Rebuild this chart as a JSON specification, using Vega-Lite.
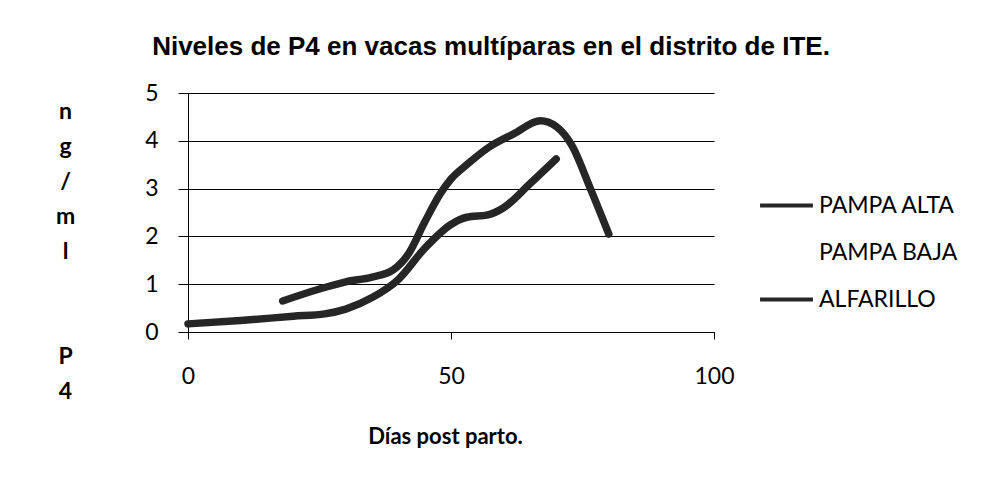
{
  "$schema": "https://vega.github.io/schema/vega-lite/v6.json",
  "width": 526,
  "height": 239,
  "autosize": "none",
  "padding": {"left": 188, "top": 93, "right": 273, "bottom": 159},
  "background": "white",
  "title": {
    "text": "Niveles de P4 en vacas multíparas en el distrito de ITE.",
    "font": "Liberation Sans",
    "fontSize": 26,
    "fontWeight": "bold",
    "color": "black",
    "anchor": "middle",
    "dx": 40,
    "baseline": "alphabetic",
    "offset": 1
  },
  "data": {
    "values": [
      {"serie": "PAMPA ALTA", "dias": 0, "p4": 0.17},
      {"serie": "PAMPA ALTA", "dias": 10, "p4": 0.24},
      {"serie": "PAMPA ALTA", "dias": 20, "p4": 0.33},
      {"serie": "PAMPA ALTA", "dias": 26, "p4": 0.38},
      {"serie": "PAMPA ALTA", "dias": 30, "p4": 0.48},
      {"serie": "PAMPA ALTA", "dias": 35, "p4": 0.72},
      {"serie": "PAMPA ALTA", "dias": 40, "p4": 1.1},
      {"serie": "PAMPA ALTA", "dias": 45, "p4": 1.75},
      {"serie": "PAMPA ALTA", "dias": 50, "p4": 2.25},
      {"serie": "PAMPA ALTA", "dias": 53, "p4": 2.4},
      {"serie": "PAMPA ALTA", "dias": 57, "p4": 2.45},
      {"serie": "PAMPA ALTA", "dias": 60, "p4": 2.6},
      {"serie": "PAMPA ALTA", "dias": 65, "p4": 3.1},
      {"serie": "PAMPA ALTA", "dias": 70, "p4": 3.62},
      {"serie": "ALFARILLO", "dias": 18, "p4": 0.65},
      {"serie": "ALFARILLO", "dias": 25, "p4": 0.9},
      {"serie": "ALFARILLO", "dias": 30, "p4": 1.05},
      {"serie": "ALFARILLO", "dias": 35, "p4": 1.15},
      {"serie": "ALFARILLO", "dias": 39, "p4": 1.3},
      {"serie": "ALFARILLO", "dias": 42, "p4": 1.65},
      {"serie": "ALFARILLO", "dias": 45, "p4": 2.3},
      {"serie": "ALFARILLO", "dias": 48, "p4": 2.9},
      {"serie": "ALFARILLO", "dias": 50, "p4": 3.2},
      {"serie": "ALFARILLO", "dias": 53, "p4": 3.5},
      {"serie": "ALFARILLO", "dias": 57, "p4": 3.85},
      {"serie": "ALFARILLO", "dias": 62, "p4": 4.15},
      {"serie": "ALFARILLO", "dias": 67, "p4": 4.42},
      {"serie": "ALFARILLO", "dias": 70, "p4": 4.3},
      {"serie": "ALFARILLO", "dias": 73, "p4": 3.9},
      {"serie": "ALFARILLO", "dias": 76.5, "p4": 3.0},
      {"serie": "ALFARILLO", "dias": 80, "p4": 2.05}
    ]
  },
  "mark": {"type": "line", "interpolate": "monotone", "strokeWidth": 7.5, "strokeCap": "round"},
  "encoding": {
    "x": {
      "field": "dias",
      "type": "quantitative",
      "scale": {"domain": [0, 100], "nice": false, "zero": true},
      "axis": {
        "values": [0, 50, 100],
        "grid": false,
        "title": "Días post parto.",
        "titleFont": "Lato",
        "titleFontSize": 22,
        "titleFontWeight": "bold",
        "titleColor": "black",
        "titlePadding": 38,
        "titleX": 257,
        "labelFont": "Lato",
        "labelFontSize": 23,
        "labelColor": "black",
        "labelPadding": 26,
        "tickSize": 7,
        "tickColor": "black",
        "domainColor": "black",
        "labelFlush": false
      }
    },
    "y": {
      "field": "p4",
      "type": "quantitative",
      "scale": {"domain": [0, 5], "nice": false},
      "axis": {
        "values": [0, 1, 2, 3, 4, 5],
        "grid": true,
        "gridColor": "black",
        "gridOpacity": 1,
        "gridWidth": 1,
        "title": ["n", "g", "/", "m", "l", "\u2800", "\u2800", "P", "4"],
        "titleAngle": 0,
        "titleAlign": "center",
        "titleBaseline": "alphabetic",
        "titleX": -123,
        "titleY": 25,
        "titleLineHeight": 35,
        "titleFont": "Lato",
        "titleFontSize": 23,
        "titleFontWeight": "bold",
        "titleColor": "black",
        "labelFont": "Lato",
        "labelFontSize": 23,
        "labelColor": "black",
        "labelPadding": 20,
        "tickSize": 10,
        "tickColor": "black",
        "domainColor": "black"
      }
    },
    "color": {
      "field": "serie",
      "type": "nominal",
      "scale": {
        "domain": ["PAMPA ALTA", "PAMPA BAJA", "ALFARILLO"],
        "range": ["#262626", "#ffffff", "#262626"]
      },
      "legend": {
        "title": null,
        "orient": "none",
        "legendX": 570,
        "legendY": 84,
        "symbolType": "stroke",
        "symbolSize": 2800,
        "symbolStrokeWidth": 4,
        "labelFont": "Lato",
        "labelFontSize": 23,
        "labelColor": "black",
        "labelOffset": 4,
        "rowPadding": 6
      }
    }
  },
  "config": {
    "view": {"stroke": null}
  }
}
